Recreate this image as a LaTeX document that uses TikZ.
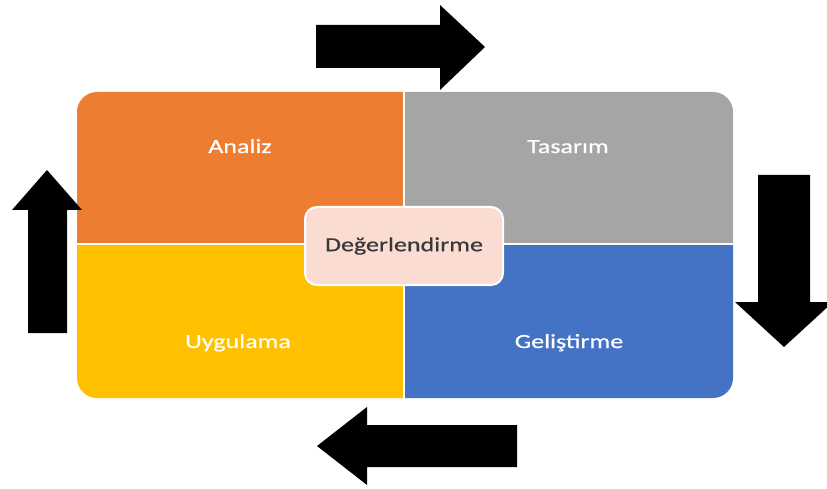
\documentclass[tikz,border=0pt]{standalone}
\usepackage{fontspec}
\setmainfont{Carlito}[FakeStretch=1.3,FakeBold=0.6]
\definecolor{analizcol}{HTML}{ED7D31}
\definecolor{tasarimcol}{HTML}{A5A5A5}
\definecolor{uygulamacol}{HTML}{FFC000}
\definecolor{gelistirmecol}{HTML}{4472C4}
\definecolor{degercol}{HTML}{FADCD2}
\definecolor{degertext}{HTML}{383838}
\tikzset{
  label/.style={text=white,anchor=base,font=\fontsize{20}{24}\selectfont},
  blockarrow/.style={fill=black},
}
\begin{document}
\begin{tikzpicture}[x=1pt,y=-1pt]
  \useasboundingbox (0,0) rectangle (827,489);
  % quadrants
  \begin{scope}
    \clip (77,92) rectangle (404,244);
    \fill[analizcol,rounded corners=20pt] (77,92) rectangle (733,398);
  \end{scope}
  \begin{scope}
    \clip (404,92) rectangle (733,244);
    \fill[tasarimcol,rounded corners=20pt] (77,92) rectangle (733,398);
  \end{scope}
  \begin{scope}
    \clip (77,244) rectangle (404,398);
    \fill[uygulamacol,rounded corners=20pt] (77,92) rectangle (733,398);
  \end{scope}
  \begin{scope}
    \clip (404,244) rectangle (733,398);
    \fill[gelistirmecol,rounded corners=20pt] (77,92) rectangle (733,398);
  \end{scope}
  \draw[white,line width=2.5pt] (404,90) -- (404,400);
  \draw[white,line width=2pt] (75,244) -- (735,244);
  % labels
  \node[label] (analiz) at (240,153) {Analiz};
  \node[label] (tasarim) at (568,153) {Tasarım};
  \node[label] (uygulama) at (238,348) {Uygulama};
  \node[label] (gelistirme) at (569,348) {Geliştirme};
  \node[draw=white,line width=2pt,fill=degercol,rounded corners=12pt,
        minimum width=198pt,minimum height=78pt,
        text=degertext,font=\fontsize{20}{24}\selectfont]
        (degerlendirme) at (404,246) {Değerlendirme};
  % arrows
  \fill[blockarrow] (316,25) -- (440,25) -- (440,5) -- (485,47) -- (440,90) -- (440,68) -- (316,68) -- cycle;
  \fill[blockarrow] (758,175) -- (810,175) -- (810,302) -- (833,302) -- (784,347) -- (735,302) -- (758,302) -- cycle;
  \fill[blockarrow] (517,425) -- (367,425) -- (367,407) -- (317,446) -- (367,485) -- (367,467) -- (517,467) -- cycle;
  \fill[blockarrow] (28,333) -- (28,210) -- (12,210) -- (47,170) -- (82,210) -- (67,210) -- (67,333) -- cycle;
\end{tikzpicture}
\end{document}
